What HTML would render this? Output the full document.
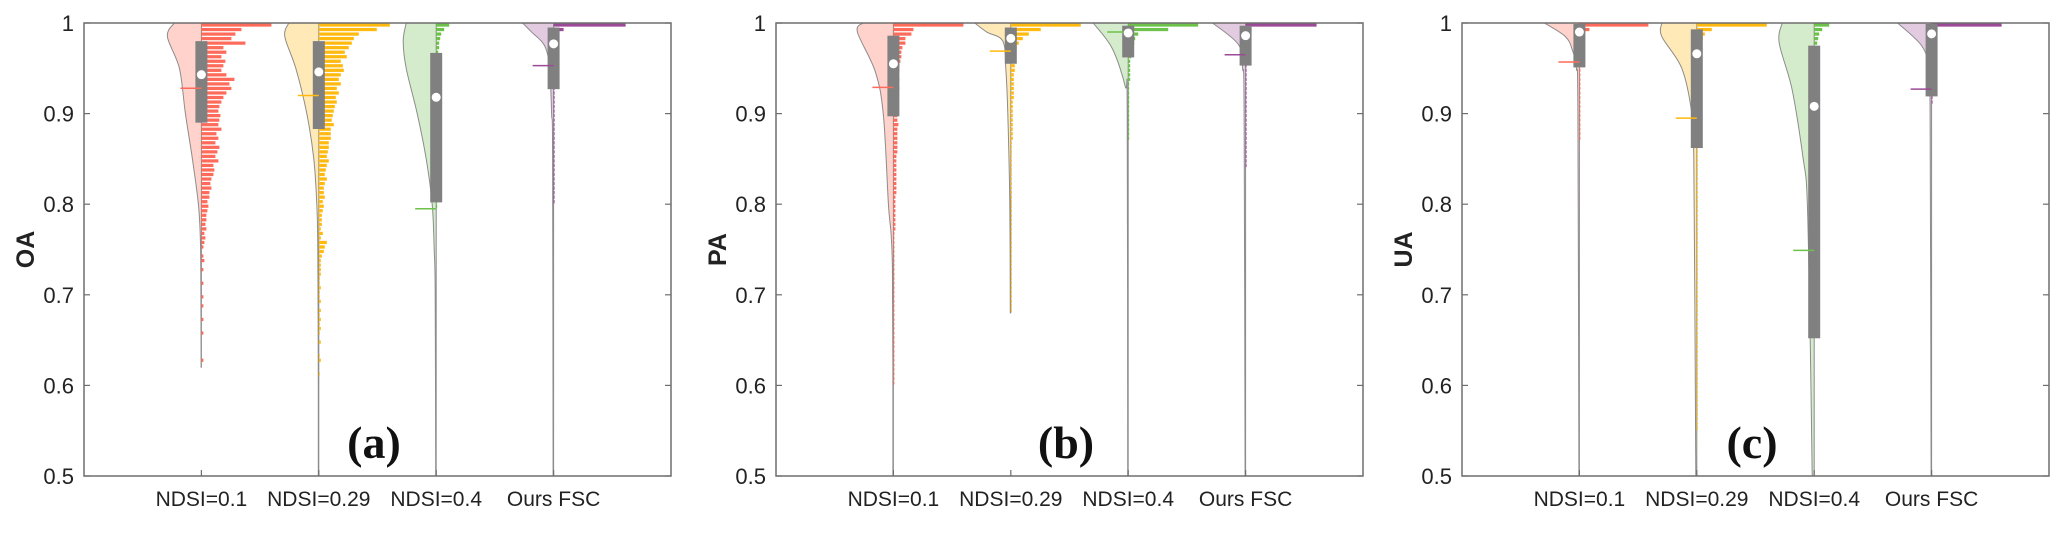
<!DOCTYPE html>
<html><head><meta charset="utf-8"><style>
html,body{margin:0;padding:0;background:#fff;}
svg{display:block;}
text{font-family:"Liberation Sans",Arial,sans-serif;}
</style></head><body>
<svg id="chart" width="2067" height="535" viewBox="0 0 2067 535" xmlns="http://www.w3.org/2000/svg"></svg>
<script>
const categories = ["NDSI=0.1","NDSI=0.29","NDSI=0.4","Ours FSC"];
const panelTitles = ["OA","PA","UA"];
const panelLetters = ["(a)","(b)","(c)"];
const yTicks = [0.5,0.6,0.7,0.8,0.9,1];
const yTickLabels = ["0.5","0.6","0.7","0.8","0.9","1"];
// box stats per panel: [q1, q3, median, mean]
const boxA = [[0.890,0.980,0.943,0.928],[0.883,0.980,0.946,0.920],[0.802,0.967,0.918,0.795],[0.927,0.995,0.977,0.953]];
const boxB = [[0.897,0.986,0.955,0.929],[0.955,0.995,0.983,0.969],[0.962,0.997,0.989,0.990],[0.953,0.997,0.986,0.965]];
const boxC = [[0.951,0.999,0.990,0.957],[0.862,0.993,0.966,0.895],[0.652,0.975,0.908,0.749],[0.919,0.999,0.988,0.927]];
// violin outline: values and half-widths (density units)
const violinValsA = [[1,0.985,0.95,0.9,0.85,0.8,0.76,0.7,0.62],[1,0.985,0.95,0.9,0.85,0.8,0.75,0.6,0.5],[1,0.98,0.95,0.9,0.85,0.8,0.75,0.7,0.5],[1,0.99,0.975,0.95,0.9,0.85,0.5]];
const violinDensA = [[27,34,22,16,9,3,1,0.5,0.3],[30,34,23,12,5,2,1,0.5,0.5],[30,33,30,19,10,4,2,1,0.5],[31,22,9,4,2,1,0.5]];
const violinValsB = [[1,0.99,0.946,0.898,0.8,0.73,0.5],[1,0.99,0.98,0.95,0.9,0.8,0.68],[1,0.972,0.93,0.9,0.5],[1,0.976,0.95,0.9,0.5]];
const violinDensB = [[30,36,18,10,5,1,0.5],[36,24,8,5,3,1,0.5],[35,16,3,1,0.5],[33,7,3,1.5,0.5]];
const violinValsC = [[1,0.985,0.97,0.95,0.9,0.5],[1,0.985,0.95,0.9,0.85,0.7,0.5],[1,0.978,0.926,0.85,0.805,0.65,0.5],[1,0.975,0.95,0.9,0.5]];
const violinDensC = [[35,14,7,3,1.5,0.5],[35,35,15,5,3,2,1],[32,35,22,11,7,4,2],[34,10,3,1.5,0.5]];
// histogram counts per 0.005 bin, from 1.0 downward
const histA = [
 [70,40,34,30,44,22,25,20,24,22,20,25,33,28,30,25,22,20,18,17,19,18,17,20,15,17,14,18,16,14,17,12,13,12,10,9,10,8,8,6,7,6,5,5,4,5,3,4,3,2,0,2,3,0,2,0,0,2,0,0,2,0,2,0,0,2,0,0,2,0,0,0,0,0,2],
 [71,58,40,35,33,30,26,28,22,24,25,22,20,22,18,20,17,18,16,15,14,13,15,12,12,12,10,10,9,8,10,8,7,6,8,6,5,5,6,4,5,4,3,3,3,2,4,2,8,6,5,3,2,2,2,2,1,1,2,1,1,2,0,2,1,2,1,2,1,0,2,0,0,1,2,0,0,1],
 [13,8,5,4,3,3,2,2,2,2,1,1,1,1,1,1,1,1,1,1,1,1,1,1,1,1,1,1,1,1,1,1,1,1,1,1,1,1,1,1,1],
 [72,10,3,2,2,1,1,1,1,1,1,1,1,1,1,1,1,1,1,1,1,1,1,1,1,1,1,1,1,1,1,1,1,1,1,1,1,1,1,1]];
const histB = [
 [70,20,18,12,12,9,8,8,7,6,6,5,6,5,6,5,5,4,5,4,4,4,5,4,4,4,4,4,4,3,3,3,3,3,3,3,3,3,2,2,2,2,2,2,2,2,1,1,1,1,1,1,1,1,1,1,1,1,1,1,1,1,1,1,1,1,1,1,1,1,1,1,1,1,1,1,1,1,1,1],
 [70,30,18,12,8,6,5,5,4,4,4,3,3,3,3,3,3,2,2,2,2,2,2,2,2,2,1,1,1,1,1,1,1,1,1,1,1,1,1,1,1,1,1,1,1,1,1,1,1,1,1,1,1,1,1,1,1,1,1,1,1,1,1,1],
 [70,40,10,7,6,4,3,3,2,2,2,2,2,1,1,1,1,1,1,1,1,1,1,1,1,1],
 [71,6,4,3,2,2,2,2,2,1,1,1,1,1,1,1,1,1,1,1,1,1,1,1,1,1,1,1,1,1,1,1]];
const histC = [
 [69,10,4,3,2,2,2,1,1,1,1,1,1,1,1,1,1,1,1,1,1,1,1,1,1,1],
 [70,15,8,6,5,4,3,3,2,2,2,2,2,2,2,2,2,2,2,2,2,2,2,2,2,1,1,1,1,1,1,1,1,1,1,1,1,1,1,1,1,1,1,1,1,1,1,1,1,1,1,1,1,1,1,1,1,1,1,1,1,1,1,1,1,1,1,1,1,1,1,1,1,1,1,1,1,1,1,1,1,1,1,1,1,1,1,1,1,1],
 [15,8,5,4,3,2,2,2,1,1,1,1,1,1,1,1,1,1,1,1,1,1,1,1,1,1,1,1,1,1],
 [70,3,2,1,1,1,1,1,1,1,1,1,1,1,1,1,1,1]];

const svg = document.getElementById('chart');
const NS = "http://www.w3.org/2000/svg";
const barCols = ["#FF6B5A","#FFB90F","#6CC24A","#9B4A97"];
const fillCols = ["#FFD2CC","#FFE9B6","#D4ECCB","#E2CBE0"];
const panels = [
 {left:84, box:boxA, vv:violinValsA, vd:violinDensA, hist:histA},
 {left:776, box:boxB, vv:violinValsB, vd:violinDensB, hist:histB},
 {left:1462, box:boxC, vv:violinValsC, vd:violinDensC, hist:histC}];
const W = 587, TOP = 23, BOT = 476;
function mk(tag, attrs, parent){ const e=document.createElementNS(NS,tag); for(const k in attrs) e.setAttribute(k,attrs[k]); (parent||svg).appendChild(e); return e; }
function yScale(v){ return BOT - (v-0.5)/0.5*(BOT-TOP); }

panels.forEach((p,pi)=>{
  const g = mk('g',{});
  
  
  const xS = i => p.left + (i+1)*W/5;
  // violins
  categories.forEach((c,i)=>{
    const cx = xS(i), vals=p.vv[i], dens=p.vd[i];
    const pts = vals.map((v,k)=>[cx-dens[k], yScale(v)]);
    // smooth path (Catmull-Rom)
    let d = `M${cx},${yScale(vals[0])} L${pts[0][0]},${pts[0][1]}`;
    for(let k=0;k<pts.length-1;k++){
      const p0=pts[Math.max(0,k-1)],p1=pts[k],p2=pts[k+1],p3=pts[Math.min(pts.length-1,k+2)];
      const c1=[p1[0]+(p2[0]-p0[0])/6,p1[1]+(p2[1]-p0[1])/6], c2=[p2[0]-(p3[0]-p1[0])/6,p2[1]-(p3[1]-p1[1])/6];
      d+=` C${c1[0]},${c1[1]} ${c2[0]},${c2[1]} ${p2[0]},${p2[1]}`;
    }
    d+=` L${cx},${yScale(vals[vals.length-1])} Z`;
    const path = mk('path',{d:d, fill:fillCols[i], stroke:'#8c8c8c','stroke-width':1},g);
    
    
  });
  // histograms
  categories.forEach((c,i)=>{
    const cx = xS(i);
    p.hist[i].forEach((n,k)=>{
      if(!n) return;
      const y1 = yScale(1-0.005*k), y2 = yScale(1-0.005*(k+1));
      const r = mk('rect',{x:cx, y:y1+0.4, width:n, height:Math.max(1,(y2-y1)-1.3), fill:barCols[i]},g);
      
      
    });
  });
  // boxes
  categories.forEach((c,i)=>{
    const cx = xS(i), b=p.box[i];
    const r = mk('rect',{x:cx-6, y:yScale(b[1]), width:12, height:yScale(b[0])-yScale(b[1]), fill:'#808080'},g);
    
    
    const m = mk('line',{x1:cx-21, x2:cx, y1:yScale(b[3]), y2:yScale(b[3]), stroke:barCols[i],'stroke-width':1.5},g);
    
    
    const dot = mk('circle',{cx:cx, cy:yScale(b[2]), r:4.5, fill:'#fff'},g);
    
    
  });
  // axes frame
  const fr = mk('rect',{x:p.left, y:TOP, width:W, height:BOT-TOP, fill:'none', stroke:'#6e6e6e','stroke-width':1.5},g);
  
  
  yTicks.forEach((t,k)=>{
    const y=yScale(t);
    mk('line',{x1:p.left,x2:p.left+6,y1:y,y2:y,stroke:'#6e6e6e','stroke-width':1.2},g);
    mk('line',{x1:p.left+W-6,x2:p.left+W,y1:y,y2:y,stroke:'#6e6e6e','stroke-width':1.2},g);
    const tl = mk('text',{x:p.left-10, y:y+8, 'text-anchor':'end','font-size':22, fill:'#222'},g);
    tl.textContent = yTickLabels[k];
    
    
  });
  categories.forEach((c,i)=>{
    const cx=xS(i);
    mk('line',{x1:cx,x2:cx,y1:BOT,y2:BOT-6,stroke:'#6e6e6e','stroke-width':1.2},g);
    const tl = mk('text',{x:cx, y:506, 'text-anchor':'middle','font-size':21, fill:'#222'},g);
    tl.textContent = c;
    
    
  });
  const yt = mk('text',{x:0,y:0,'text-anchor':'middle','font-size':25,'font-weight':'bold',fill:'#222',transform:`translate(${p.left-50},${(TOP+BOT)/2}) rotate(-90)`},g);
  yt.textContent = panelTitles[pi];
  
  
  const pl = mk('text',{x:p.left+290, y:458, 'text-anchor':'middle','font-size':46,'font-weight':'bold',fill:'#111',style:'font-family:"Liberation Serif",serif'},g);
  pl.textContent = panelLetters[pi];
  
  
});
</script>
</body></html>
